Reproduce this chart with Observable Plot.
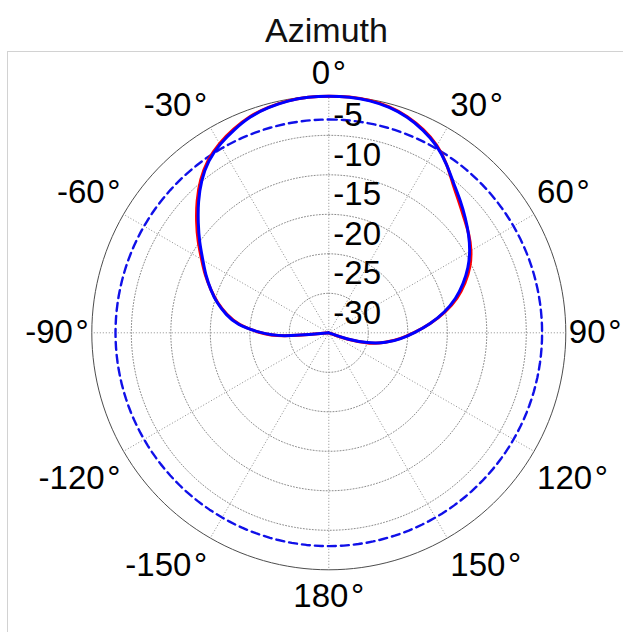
<!DOCTYPE html>
<html>
<head>
<meta charset="utf-8">
<script src="https://cdn.jsdelivr.net/npm/d3@7"></script>
<script src="https://cdn.jsdelivr.net/npm/@observablehq/plot@0.6"></script>
<style>
  html, body { margin: 0; padding: 0; background: #fff; }
  #wrap { position: relative; width: 623px; height: 632px; overflow: hidden; font-family: "Liberation Sans", Arial, sans-serif; }
  #title { position: absolute; left: 30px; width: 593px; top: 10px; text-align: center; font-size: 34px; line-height: 40px; color: #111; }
  #box { position: absolute; left: 7px; top: 51px; width: 700px; height: 700px; border-left: 1px solid #d2d2d2; border-top: 1px solid #d2d2d2; }
  #chart { position: absolute; left: 0; top: 51px; }
</style>
</head>
<body>
<div id="wrap">
  <div id="title">Azimuth</div>
  <div id="box"></div>
  <div id="chart"></div>
</div>
<script>
// ---- data (angles in degrees, clockwise from top; gains in dB) ----
const angles = [-180,-175,-170,-165,-160,-155,-150,-145,-140,-135,-130,-125,-120,-115,-110,-105,-100,-95,-90,-85,-80,-75,-70,-65,-60,-55,-50,-45,-40,-35,-30,-25,-20,-15,-10,-5,0,5,10,15,20,25,30,35,40,45,50,55,60,65,70,75,80,85,90,95,100,105,110,115,120,125,130,135,140,145,150,155,160,165,170,175];
const redGain = [-35,-35,-35,-35,-35,-35,-35,-35,-35,-35,-35,-35,-35,-35,-35,-35,-31,-23.6,-21.2,-18.5,-16.9,-15.4,-14.1,-12.7,-11.4,-9.75,-8.1,-6.35,-4.65,-3.25,-2.25,-1.5,-0.78,-0.4,-0.13,-0.02,0,0,-0.06,-0.32,-0.82,-1.58,-2.5,-3.9,-5.55,-6.65,-7.6,-8.3,-9.15,-10.2,-11.6,-13.1,-15.0,-17.1,-19.2,-20.95,-22.8,-24.5,-27.3,-31,-35,-35,-35,-35,-35,-35,-35,-35,-35,-35,-35,-35];
const blueGain = [-35,-35,-35,-35,-35,-35,-35,-35,-35,-35,-35,-35,-35,-35,-35,-35,-31,-23.8,-21.3,-18.3,-16.8,-15.3,-14.1,-12.8,-11.6,-10.0,-8.4,-6.6,-4.85,-3.38,-2.4,-1.63,-0.85,-0.45,-0.15,-0.03,0,-0.03,-0.12,-0.4,-0.9,-1.68,-2.6,-3.94,-5.39,-6.4,-7.41,-8.35,-9.35,-10.5,-11.87,-13.34,-15.1,-17.1,-19.15,-20.85,-22.6,-24.9,-27.5,-31,-35,-35,-35,-35,-35,-35,-35,-35,-35,-35,-35,-35];
const referenceLevel = -3;          // dashed blue circle
const gridLevels = [-5, -10, -15, -20, -25, -30];
const angleTicks = [0, 30, 60, 90, 120, 150, 180, -150, -120, -90, -60, -30];
const rMin = -30, rMax = 0;

// ---- polar helpers ----
const deg = Math.PI / 180;
const R = rMax - rMin;
const rho = db => Math.max(0, Math.min(R, db - rMin));
const px = (theta, r) => r * Math.sin(theta * deg);
const py = (theta, r) => r * Math.cos(theta * deg);

const redData = angles.map((a, i) => ({a, g: redGain[i]}));
const blueData = angles.map((a, i) => ({a, g: blueGain[i]}));
const sweep = d3.range(0, 360, 2);
const refData = sweep.map(a => ({a, g: referenceLevel}));
const ringData = gridLevels.filter(l => l > rMin).flatMap(l => sweep.map(a => ({a, l})));
const outerData = sweep.map(a => ({a}));
const spokeAngles = d3.range(0, 360, 30);

// layout: plot radius in pixels, label gaps in pixels
const radiusPx = 237;
const unit = R / radiusPx;                      // data units per pixel
const gapSide = 3, gapTop = 22, gapBottom = 27;
const eps = 1e-6;
const sgn = v => (v > eps ? 1 : v < -eps ? -1 : 0);
const labelX = a => px(a, R) + sgn(Math.sin(a * deg)) * gapSide * unit;
const labelY = a => { const c = sgn(Math.cos(a * deg)); return py(a, R) + (c > 0 ? gapTop : c < 0 ? -gapBottom : 0) * unit; };
const labelText = a => `${a}\u200A°`;

const font = '"Liberation Sans", Arial, sans-serif';
const dotted = {stroke: "#8c8c8c", strokeWidth: 1, strokeDasharray: "1,2"};
const labelStyle = {x: labelX, y: labelY, text: labelText, fontSize: 33, fill: "#000"};

const chart = Plot.plot({
  width: 623,
  height: 581,
  marginLeft: 91.3,
  marginRight: 57.7,
  marginTop: 44.3,
  marginBottom: 62.7,
  x: {domain: [-R, R], axis: null},
  y: {domain: [-R, R], axis: null},
  style: {fontFamily: font, background: "transparent", overflow: "visible"},
  marks: [
    Plot.line(ringData, {x: d => px(d.a, rho(d.l)), y: d => py(d.a, rho(d.l)), z: "l", curve: "linear-closed", ...dotted}),
    Plot.link(spokeAngles, {x1: () => 0, y1: () => 0, x2: a => px(a, R), y2: a => py(a, R), ...dotted}),
    Plot.line(outerData, {x: d => px(d.a, R), y: d => py(d.a, R), curve: "linear-closed", stroke: "#4d4d4d", strokeWidth: 1}),
    Plot.line(refData, {x: d => px(d.a, rho(d.g)), y: d => py(d.a, rho(d.g)), curve: "linear-closed", stroke: "#1010e8", strokeWidth: 2.4, strokeDasharray: "8,5"}),
    Plot.line(redData, {x: d => px(d.a, rho(d.g)), y: d => py(d.a, rho(d.g)), curve: "basis-closed", stroke: "#ff0000", strokeWidth: 3}),
    Plot.line(blueData, {x: d => px(d.a, rho(d.g)), y: d => py(d.a, rho(d.g)), curve: "basis-closed", stroke: "#0000ff", strokeWidth: 3}),
    Plot.text(gridLevels, {x: () => 0, y: l => rho(l), text: l => String(l), textAnchor: "start", dx: 4.5, dy: -19.5, fontSize: 33, fill: "#000"}),
    Plot.text(angleTicks.filter(a => sgn(Math.sin(a * deg)) > 0), {...labelStyle, textAnchor: "start"}),
    Plot.text(angleTicks.filter(a => sgn(Math.sin(a * deg)) < 0), {...labelStyle, textAnchor: "end"}),
    Plot.text(angleTicks.filter(a => sgn(Math.sin(a * deg)) === 0), {...labelStyle, textAnchor: "middle"})
  ]
});
document.getElementById("chart").appendChild(chart);
</script>
</body>
</html>
